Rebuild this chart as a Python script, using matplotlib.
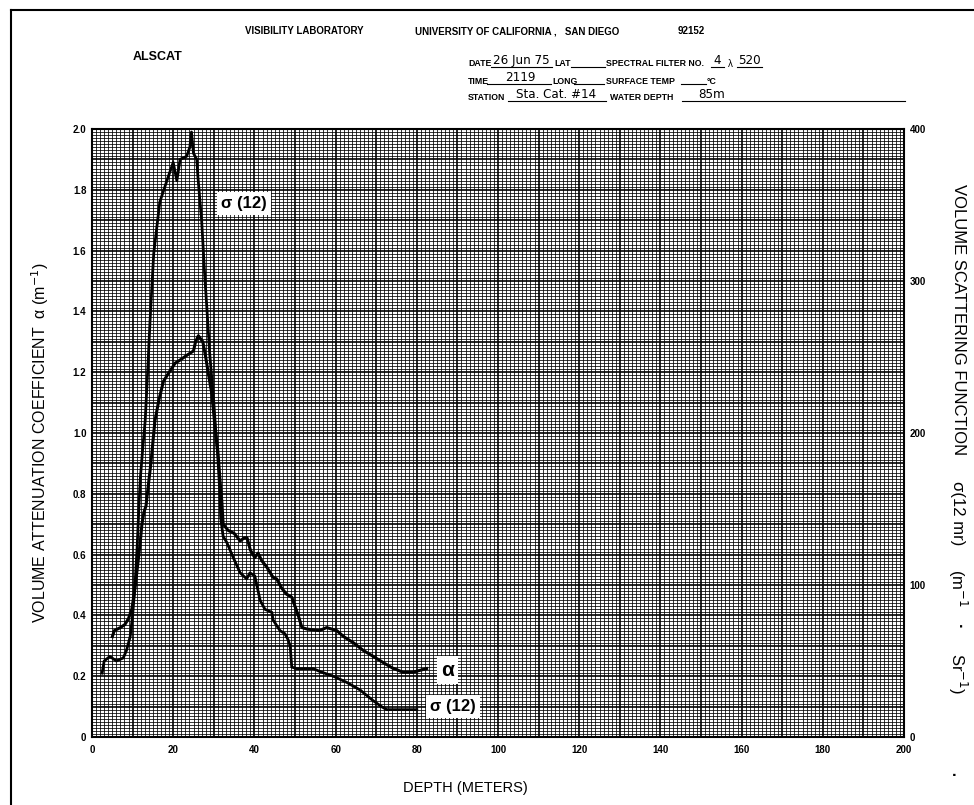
import matplotlib
matplotlib.use("Agg")
import matplotlib.pyplot as plt
from matplotlib.ticker import MultipleLocator, FuncFormatter
from matplotlib.lines import Line2D
import numpy as np

# ---------------- data ----------------
alpha_depth = [5.0, 5.5, 7.0, 8.1, 9.0, 9.8, 10.5, 11.2, 11.8, 12.3, 12.8, 13.3, 13.8, 14.5,
               15.0, 15.5, 16.5, 17.6, 19.0, 20.5, 21.7, 23.3, 25.0, 25.5, 26.2, 27.3, 28.0,
               28.6, 29.5, 30.3, 31.0, 31.5, 32.0, 32.3, 33.5, 35.0, 36.5, 37.5, 38.2, 39.0,
               40.1, 40.9, 41.8, 43.0, 44.6, 45.5, 46.7, 47.9, 49.2, 50.0, 50.8, 51.7, 53.0,
               56.0, 57.8, 60.3, 62.0, 64.4, 66.8, 69.3, 71.7, 74.0, 76.6, 79.0, 82.4]
alpha_vals = [0.33, 0.35, 0.36, 0.37, 0.39, 0.42, 0.48, 0.56, 0.63, 0.70, 0.74, 0.76, 0.82, 0.90,
              0.97, 1.04, 1.11, 1.17, 1.20, 1.23, 1.24, 1.255, 1.27, 1.30, 1.32, 1.30, 1.25,
              1.20, 1.13, 1.02, 0.94, 0.85, 0.77, 0.70, 0.68, 0.67, 0.645, 0.655, 0.655, 0.615,
              0.59, 0.605, 0.58, 0.56, 0.525, 0.52, 0.49, 0.47, 0.46, 0.43, 0.40, 0.36, 0.355,
              0.35, 0.36, 0.35, 0.33, 0.31, 0.285, 0.265, 0.245, 0.227, 0.213, 0.213, 0.225]

# sigma(12 mr) in right-axis units (m^-1 sr^-1)
sigma_depth = [2.5, 3.0, 4.4, 6.0, 7.7, 8.5, 9.4, 10.0, 10.6, 11.1, 11.5, 11.9, 12.5, 13.1,
               13.7, 14.3, 15.2, 16.7, 18.7, 20.0, 20.9, 21.7, 23.3, 24.1, 24.5, 25.0, 25.8,
               26.1, 27.0, 27.8, 28.2, 29.0, 30.0, 30.5, 31.0, 31.5, 31.7, 32.3, 33.2, 34.8,
               36.5, 38.1, 38.9, 40.1, 41.4, 42.6, 44.3, 44.6, 46.3, 47.5, 48.3, 48.8, 49.2,
               50.4, 54.5, 56.2, 59.4, 62.7, 66.0, 69.2, 71.3, 72.6, 80.0]
sigma_vals = [42, 50, 53, 50, 52, 57, 66, 80, 100, 124, 148, 170, 190, 208,
              240, 274, 318, 352, 368, 378, 366, 380, 382, 388, 398, 384, 380,
              368, 340, 302, 286, 252, 220, 200, 184, 160, 144, 132, 128, 118,
              108, 104, 108, 106, 90, 84, 82, 77, 70, 68, 64, 60, 46,
              45, 45, 43, 40, 36, 31, 24, 20, 18, 18]

x_ticks = [0, 20, 40, 60, 80, 100, 120, 140, 160, 180, 200]
left_ticks = [0, 0.2, 0.4, 0.6, 0.8, 1.0, 1.2, 1.4, 1.6, 1.8, 2.0]
left_labels = ["0", "0.2", "0.4", "0.6", "0.8", "1.0", "1.2", "1.4", "1.6", "1.8", "2.0"]
right_ticks = [0, 100, 200, 300, 400]

# ---------------- figure ----------------
NARROW = ["Liberation Sans Narrow", "Liberation Sans", "DejaVu Sans"]
SANS = ["Liberation Sans", "DejaVu Sans"]
HAND = ["DejaVu Sans", "Liberation Sans"]
plt.rcParams['font.family'] = SANS

fig = plt.figure(figsize=(9.74, 8.05), dpi=100)
ax = fig.add_axes([92/974, 68/805, 812/974, 608/805])
ax.set_xlim(0, 200)
ax.set_ylim(0, 2.0)

# graph paper grid
ax.xaxis.set_major_locator(MultipleLocator(10))
ax.yaxis.set_major_locator(MultipleLocator(0.1))
ax.xaxis.set_minor_locator(MultipleLocator(1))
ax.yaxis.set_minor_locator(MultipleLocator(0.01))
ax.grid(which='minor', color='black', lw=0.55)
ax.grid(which='major', color='black', lw=1.2)
ax.set_axisbelow(True)

def xfmt(v, p):
    iv = int(round(v))
    return str(iv) if iv % 20 == 0 else ""

def yfmt(v, p):
    for t, l in zip(left_ticks, left_labels):
        if abs(v - t) < 1e-6:
            return l
    return ""

ax.xaxis.set_major_formatter(FuncFormatter(xfmt))
ax.yaxis.set_major_formatter(FuncFormatter(yfmt))
ax.tick_params(which='both', length=0)
ax.tick_params(axis='x', pad=6)
ax.tick_params(axis='y', pad=4)
for lab in ax.get_xticklabels() + ax.get_yticklabels():
    lab.set_fontweight('bold')
    lab.set_fontsize(7)
for s in ax.spines.values():
    s.set_linewidth(1.5)

ax2 = ax.twinx()
ax2.set_ylim(0, 400)
ax2.set_yticks(right_ticks)
ax2.set_yticklabels([str(t) for t in right_ticks], fontsize=7, fontweight='bold')
ax2.tick_params(length=0, pad=4)
for s in ax2.spines.values():
    s.set_visible(False)

# curves
ax.plot(alpha_depth, alpha_vals, color='black', lw=2.2, solid_joinstyle='round', zorder=5)
ax2.plot(sigma_depth, sigma_vals, color='black', lw=2.0, solid_joinstyle='round', zorder=5)

# curve labels
box = dict(boxstyle='square,pad=0.25', fc='white', ec='none')
ax.text(37.4, 1.755, "σ (12)", fontsize=12, fontweight='bold', ha='center', va='center',
        bbox=box, zorder=6)
ax.text(87.5, 0.22, "α", fontsize=15, fontweight='bold', ha='center', va='center',
        bbox=dict(boxstyle='square,pad=0.2', fc='white', ec='none'), zorder=6)
ax.text(89.0, 0.10, "σ (12)", fontsize=12, fontweight='bold', ha='center', va='center',
        bbox=box, zorder=6)

# axis titles
fig.text(40/974, 1 - 443/805, "VOLUME ATTENUATION COEFFICIENT  α (m$^{-1}$)", rotation=90,
         ha='center', va='center', fontsize=11.5)

def rlab(y, s, size=12, weight='normal'):
    fig.text(958/974, 1 - y/805, s, rotation=-90, ha='center', va='center',
             fontsize=size, fontweight=weight)

rlab(320, "VOLUME SCATTERING FUNCTION")
rlab(513, "σ(12 mr)")
rlab(588, "(m$^{-1}$")
rlab(627, "·", weight='bold')
rlab(673, "Sr$^{-1}$)")
fig.text(955/974, 1 - 775/805, "·", ha='center', va='center', fontsize=12, fontweight='bold')
fig.text(465/974, 1 - 788/805, "DEPTH (METERS)", ha='center', va='center', fontsize=10.5)

# page frame
fig.add_artist(Line2D([11/974, 11/974], [0, 1 - 10/805], transform=fig.transFigure, color='black', lw=1.5))
fig.add_artist(Line2D([11/974, 1], [1 - 10/805, 1 - 10/805], transform=fig.transFigure, color='black', lw=1.5))

# header
def ht(x, y, s, size=6.3, weight='bold', fam=NARROW, ha='left', stretch='normal'):
    fig.text(x/974, 1 - y/805, s, fontsize=size, fontweight=weight, family=fam, ha=ha,
             va='center', fontstretch=stretch)

def hw(x, y, s, size=9.5):
    fig.text(x/974, 1 - y/805, s, fontsize=size, family=HAND, ha='center', va='baseline',
             fontstretch='condensed')

def uline(x0, x1, y):
    fig.add_artist(Line2D([x0/974, x1/974], [1 - y/805, 1 - y/805], transform=fig.transFigure,
                          color='black', lw=0.8))

ht(245, 31, "VISIBILITY LABORATORY", size=7)
ht(415, 31, "UNIVERSITY OF CALIFORNIA ,   SAN DIEGO", size=7)
ht(678, 31, "92152", size=7)
ht(133, 57, "ALSCAT", size=9)

ht(468, 64, "DATE")
uline(491, 552, 67)
hw(521, 64, "26 Jun 75")
ht(554, 64, "LAT")
uline(571, 605, 67)
ht(606, 64, "SPECTRAL FILTER NO.")
uline(711, 724, 67)
hw(717, 64, "4")
ht(728, 64, "λ", size=7, weight='normal', fam=SANS)
uline(737, 762, 67)
hw(749, 64, "520")

ht(468, 81, "TIME")
uline(487, 551, 84)
hw(520, 81, "2119")
ht(552, 81, "LONG")
uline(574, 604, 84)
ht(606, 81, "SURFACE TEMP")
uline(681, 706, 84)
ht(707, 81, "°C")

ht(468, 98, "STATION")
uline(508, 606, 101)
hw(556, 98, "Sta. Cat. #14")
ht(610, 98, "WATER DEPTH")
uline(682, 905, 101)
hw(712, 98, "85m")

fig.savefig("out.png", dpi=100)
